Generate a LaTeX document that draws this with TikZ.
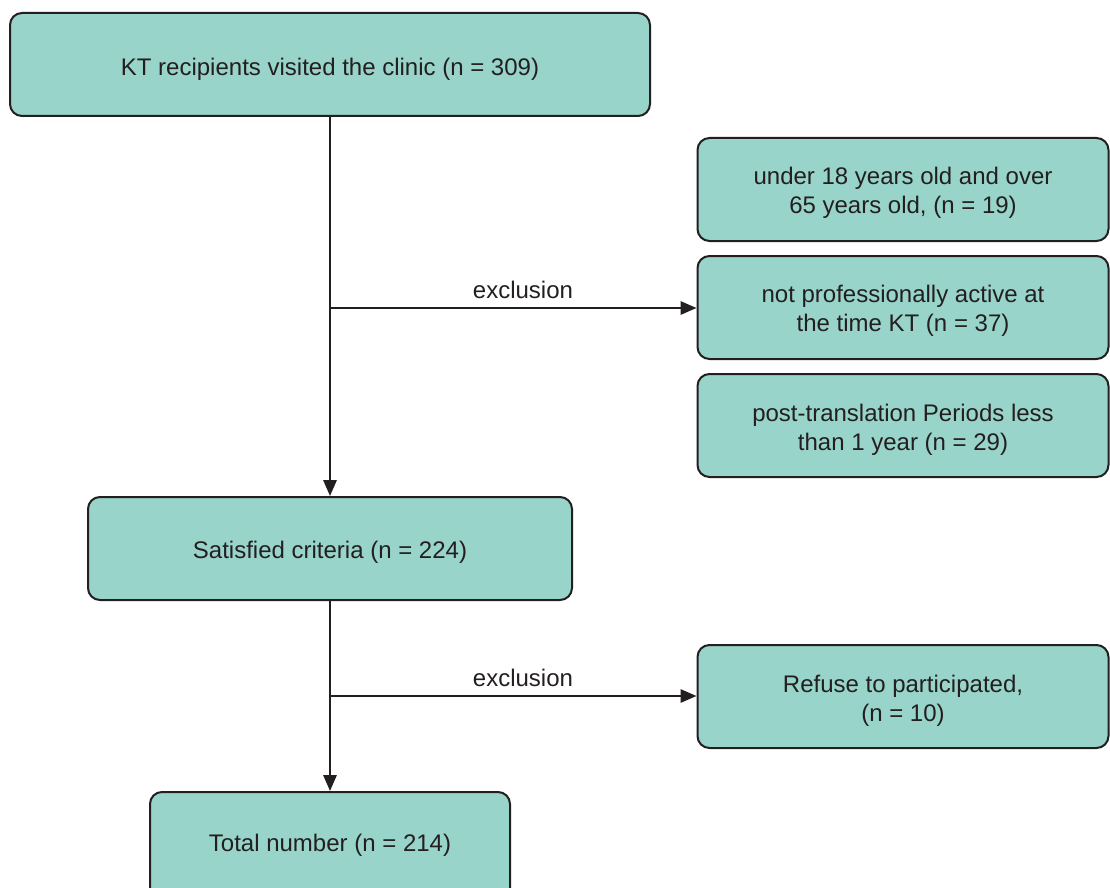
\documentclass[tikz,border=0pt]{standalone}
\usepackage{fontspec}
\setmainfont{Liberation Sans}
\usetikzlibrary{arrows.meta}
\definecolor{boxfill}{HTML}{98D4C9}
\definecolor{ink}{HTML}{231F20}
\begin{document}
\begin{tikzpicture}[x=0.75pt,y=-0.75pt,
  box/.style={draw=ink, fill=boxfill, line width=1.5pt, rounded corners=9pt, inner sep=0pt, minimum height=77.25pt},
  boxtext/.style={text=ink, font=\fontsize{18}{21.75}\selectfont, align=center, inner sep=0pt, yshift=-2.5pt},
  conn/.style={draw=ink, line width=1.5pt, -{Triangle[length=12pt,width=10pt]}},
  lab/.style={text=ink, font=\fontsize{18}{21.75}\selectfont, inner sep=0pt}]
\useasboundingbox (0,0) rectangle (1110,888);
\clip (0,0) rectangle (1110,888);
\node[box, minimum width=480pt, label={[boxtext, yshift=-1.25pt]center:KT recipients visited the clinic (n = 309)}] (top) at (330,64.5) {};
\node[box, minimum width=308.25pt, label={[boxtext]center:under 18 years old and over\\65 years old, (n = 19)}] (r1) at (903,189.5) {};
\node[box, minimum width=308.25pt, label={[boxtext]center:not professionally active at\\the time KT (n = 37)}] (r2) at (903,307.5) {};
\node[box, minimum width=308.25pt, label={[boxtext, yshift=-0.5pt]center:post-translation Periods less\\than 1 year (n = 29)}] (r3) at (903,425.5) {};
\node[box, minimum width=363pt, label={[boxtext]center:Satisfied criteria (n = 224)}] (sat) at (330,548.5) {};
\node[box, minimum width=308.25pt, label={[boxtext, yshift=-0.5pt]center:Refuse to participated,\\(n = 10)}] (ref) at (903,696.5) {};
\node[box, minimum width=270pt, minimum height=90pt, label={[boxtext, yshift=7.5pt]center:Total number (n = 214)}] (tot) at (330,852) {};
\coordinate (j1) at (330,308);
\coordinate (j2) at (330,696);
\draw[conn] (top.south) -- (sat.north);
\draw[conn] (j1) -- (j1 -| r2.west);
\node[lab] (e1) at (523,290) {exclusion};
\draw[conn] (sat.south) -- (tot.north);
\draw[conn] (j2) -- (j2 -| ref.west);
\node[lab] (e2) at (523,678) {exclusion};
\end{tikzpicture}
\end{document}
